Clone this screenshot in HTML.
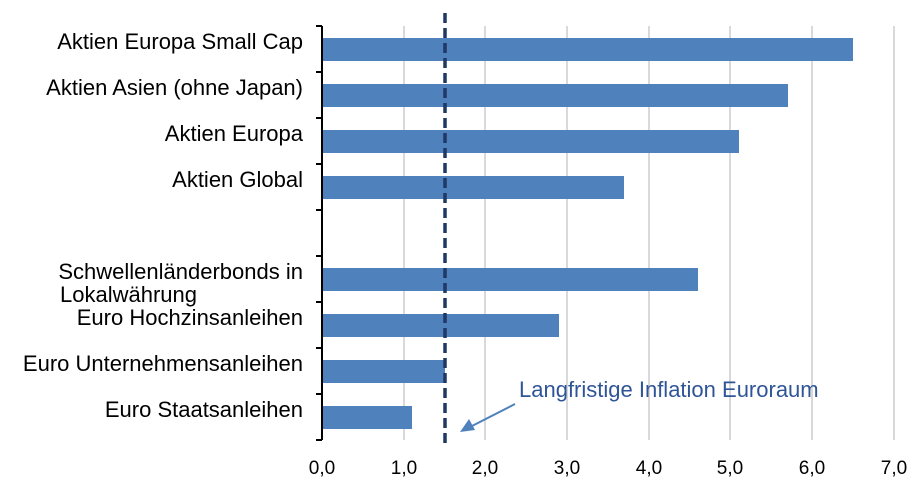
<!DOCTYPE html>
<html><head><meta charset="utf-8"><style>body{margin:0;background:#fff}</style></head><body>
<svg width="922" height="488" xmlns="http://www.w3.org/2000/svg" font-family="Liberation Sans, sans-serif">
<rect width="922" height="488" fill="#fff"/>
<g stroke="#d9d9d9" stroke-width="2">
<line x1="404" y1="26" x2="404" y2="440"/><line x1="485" y1="26" x2="485" y2="440"/>
<line x1="567" y1="26" x2="567" y2="440"/><line x1="649" y1="26" x2="649" y2="440"/>
<line x1="730" y1="26" x2="730" y2="440"/><line x1="812" y1="26" x2="812" y2="440"/>
<line x1="894" y1="26" x2="894" y2="440"/>
</g>
<g fill="#4f81bd">
<rect x="322" y="38" width="531" height="23"/>
<rect x="322" y="84" width="466" height="23"/>
<rect x="322" y="130" width="417" height="23"/>
<rect x="322" y="176" width="302" height="23"/>
<rect x="322" y="268" width="376" height="23"/>
<rect x="322" y="314" width="237" height="23"/>
<rect x="322" y="360" width="123" height="23"/>
<rect x="322" y="406" width="90" height="23"/>
</g>
<g stroke="#000" stroke-width="2">
<line x1="322" y1="26" x2="322" y2="440"/>
<line x1="316" y1="26" x2="322" y2="26"/><line x1="316" y1="72" x2="322" y2="72"/>
<line x1="316" y1="118" x2="322" y2="118"/><line x1="316" y1="164" x2="322" y2="164"/>
<line x1="316" y1="210" x2="322" y2="210"/><line x1="316" y1="256" x2="322" y2="256"/>
<line x1="316" y1="302" x2="322" y2="302"/><line x1="316" y1="348" x2="322" y2="348"/>
<line x1="316" y1="394" x2="322" y2="394"/><line x1="316" y1="440" x2="322" y2="440"/>
</g>
<line x1="445" y1="13" x2="445" y2="444" stroke="#1f3864" stroke-width="3.5" stroke-dasharray="10,5"/>
<g font-size="22" fill="#000" text-anchor="end">
<text x="303" y="49">Aktien Europa Small Cap</text>
<text x="303" y="95">Aktien Asien (ohne Japan)</text>
<text x="303" y="141">Aktien Europa</text>
<text x="303" y="187">Aktien Global</text>
<text x="303" y="279">Schwellenländerbonds in</text>
<text x="303" y="325">Euro Hochzinsanleihen</text>
<text x="303" y="371">Euro Unternehmensanleihen</text>
<text x="303" y="417">Euro Staatsanleihen</text>
</g>
<text x="60" y="302" font-size="22" fill="#000">Lokalwährung</text>
<g font-size="19" fill="#000" text-anchor="middle">
<text x="322" y="474">0,0</text><text x="404" y="474">1,0</text><text x="485" y="474">2,0</text>
<text x="567" y="474">3,0</text><text x="649" y="474">4,0</text><text x="730" y="474">5,0</text>
<text x="812" y="474">6,0</text><text x="894" y="474">7,0</text>
</g>
<text x="519" y="397" font-size="22" fill="#2f5597">Langfristige Inflation Euroraum</text>
<line x1="515" y1="404" x2="472" y2="426" stroke="#4f81bd" stroke-width="2"/>
<polygon points="460,432 469,419 475,430" fill="#4f81bd"/>
</svg>
</body></html>
